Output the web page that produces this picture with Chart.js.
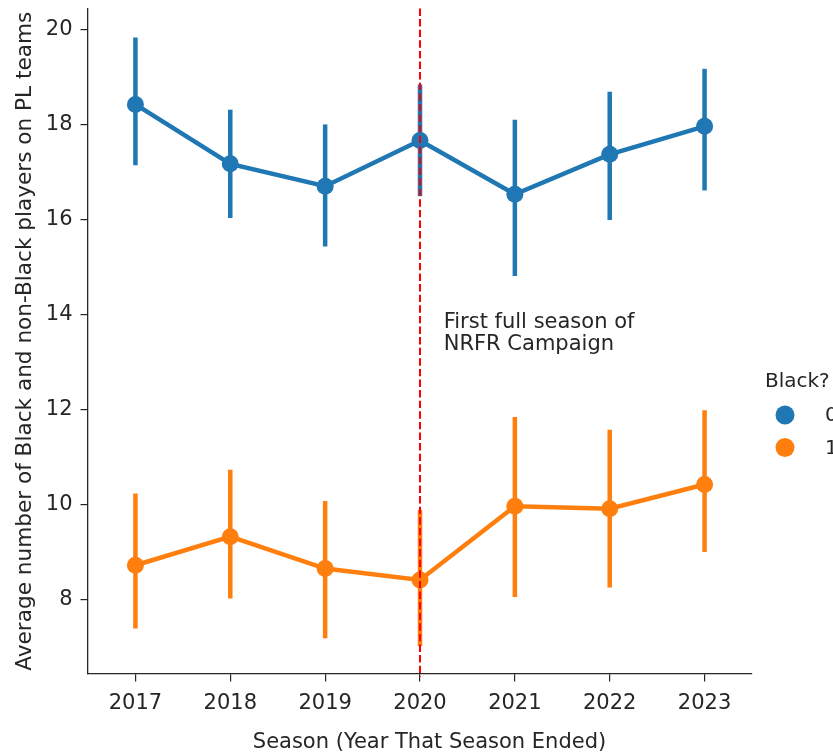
<!DOCTYPE html>
<html>
<head>
<meta charset="utf-8">
<script src="https://cdn.jsdelivr.net/npm/chart.js@4/dist/chart.umd.min.js"></script>
<style>
  html, body { margin: 0; padding: 0; background: #fff; }
  #wrap { position: relative; width: 833px; height: 753px; }
</style>
</head>
<body>
<div id="wrap"><canvas id="chart"></canvas></div>
<script>
// Seasons (year each season ended)
const seasons = ['2017', '2018', '2019', '2020', '2021', '2022', '2023'];

// Non-Black players (Black? = 0): mean and 95% interval
const nonBlackMean = [18.42, 17.17, 16.70, 17.66, 16.53, 17.37, 17.96];
const nonBlackLow  = [17.14, 16.03, 15.43, 16.49, 14.81, 15.99, 16.61];
const nonBlackHigh = [19.83, 18.31, 18.00, 18.84, 18.10, 18.69, 19.17];

// Black players (Black? = 1): mean and 95% interval
const blackMean = [8.72, 9.32, 8.65, 8.41, 9.96, 9.91, 10.42];
const blackLow  = [7.39, 8.02, 7.18, 7.02, 8.05, 8.25, 9.00];
const blackHigh = [10.23, 10.73, 10.07, 9.88, 11.84, 11.57, 11.98];

const yTickValues = [8, 10, 12, 14, 16, 18, 20];
const legendTitle = 'Black?';
const legendLabels = ['0', '1'];
const campaignSeason = '2020';
const noteLines = ['First full season of', 'NRFR Campaign'];
const xTitle = 'Season (Year That Season Ended)';
const yTitle = 'Average number of Black and non-Black players on PL teams';

const BLUE = '#1f77b4';
const ORANGE = '#ff7f0e';
const INK = '#262626';
const FONT = "'DejaVu Sans', sans-serif";
const FS = 21;

// Vertical confidence-interval bars, drawn under the lines and markers
const errorBars = {
  id: 'errorBars',
  beforeDatasetsDraw(chart) {
    const { ctx, scales: { x, y } } = chart;
    const sets = [
      { low: nonBlackLow, high: nonBlackHigh, color: BLUE },
      { low: blackLow, high: blackHigh, color: ORANGE }
    ];
    ctx.save();
    ctx.lineWidth = 4.5;
    ctx.lineCap = 'butt';
    sets.forEach(s => {
      ctx.strokeStyle = s.color;
      seasons.forEach((_, i) => {
        const px = x.getPixelForValue(i);
        ctx.beginPath();
        ctx.moveTo(px, y.getPixelForValue(s.low[i]));
        ctx.lineTo(px, y.getPixelForValue(s.high[i]));
        ctx.stroke();
      });
    });
    ctx.restore();
  }
};

// Dashed marker for the campaign season, note text, x title and legend
const overlay = {
  id: 'overlay',
  afterDatasetsDraw(chart) {
    const { ctx, chartArea, scales: { x, y } } = chart;
    const idx = seasons.indexOf(campaignSeason);
    const px = x.getPixelForValue(idx);
    ctx.save();
    ctx.strokeStyle = '#ff0000';
    ctx.lineWidth = 2;
    ctx.setLineDash([7.4, 3.2]);
    ctx.beginPath();
    ctx.moveTo(px, chartArea.top);
    ctx.lineTo(px, chartArea.bottom + 3);
    ctx.stroke();
    ctx.setLineDash([]);

    // note beside the dashed line
    const step = x.getPixelForValue(1) - x.getPixelForValue(0);
    const nx = px + 0.25 * step;
    const ny = y.getPixelForValue(13.71);
    ctx.fillStyle = INK;
    ctx.font = FS + 'px ' + FONT;
    ctx.textAlign = 'left';
    ctx.textBaseline = 'alphabetic';
    noteLines.forEach((t, i) => ctx.fillText(t, nx, ny + i * 22));

    // x-axis title
    ctx.textAlign = 'center';
    ctx.fillText(xTitle, 429.5, 748);

    // legend
    ctx.textAlign = 'left';
    ctx.font = '20px ' + FONT;
    ctx.fillText(legendTitle, 765, 387);
    ctx.textBaseline = 'middle';
    const colors = [BLUE, ORANGE];
    legendLabels.forEach((t, i) => {
      const ly = 415 + i * 32.5;
      ctx.fillStyle = colors[i];
      ctx.beginPath();
      ctx.arc(785, ly, 9.5, 0, Math.PI * 2);
      ctx.fill();
      ctx.fillStyle = INK;
      ctx.fillText(t, 825, ly + 1);
    });
    ctx.restore();
  }
};

new Chart(document.getElementById('chart'), {
  type: 'line',
  data: {
    labels: seasons,
    datasets: [
      {
        label: legendLabels[0],
        data: nonBlackMean,
        borderColor: BLUE,
        backgroundColor: BLUE,
        borderWidth: 4.5,
        pointRadius: 8.5,
        pointBorderWidth: 0,
        pointHoverRadius: 8.5,
        tension: 0
      },
      {
        label: legendLabels[1],
        data: blackMean,
        borderColor: ORANGE,
        backgroundColor: ORANGE,
        borderWidth: 4.5,
        pointRadius: 8.5,
        pointBorderWidth: 0,
        pointHoverRadius: 8.5,
        tension: 0
      }
    ]
  },
  options: {
    responsive: true,
    maintainAspectRatio: false,
    animation: false,
    events: [],
    layout: { padding: { left: 0, right: 81, top: 7, bottom: 0 } },
    plugins: {
      legend: { display: false },
      tooltip: { enabled: false }
    },
    scales: {
      x: {
        type: 'category',
        offset: true,
        grid: {
          display: true,
          drawOnChartArea: false,
          drawTicks: true,
          tickLength: 7.5,
          color: INK,
          lineWidth: 1.2
        },
        border: { display: true, color: INK, width: 1.3 },
        ticks: { color: INK, font: { family: FONT, size: FS }, padding: 9, maxRotation: 0 },
        title: { display: false },
        afterFit(scale) {
          scale.height = 79;
          scale.paddingLeft = 0;
          scale.paddingRight = 0;
        }
      },
      y: {
        type: 'linear',
        min: 6.43,
        max: 20.44,
        afterBuildTicks(scale) {
          scale.ticks = yTickValues.map(v => ({ value: v }));
        },
        grid: {
          display: true,
          drawOnChartArea: false,
          drawTicks: true,
          tickLength: 7.5,
          color: INK,
          lineWidth: 1.2
        },
        border: { display: true, color: INK, width: 1.3 },
        ticks: { color: INK, font: { family: FONT, size: FS }, padding: 8 },
        title: {
          display: true,
          text: yTitle,
          color: INK,
          font: { family: FONT, size: 21.6 },
          padding: { top: 12, bottom: 0 }
        },
        afterFit(scale) {
          scale.width = 88;
          scale.paddingTop = 0;
          scale.paddingBottom = 0;
        }
      }
    }
  },
  plugins: [errorBars, overlay]
});
</script>
</body>
</html>
